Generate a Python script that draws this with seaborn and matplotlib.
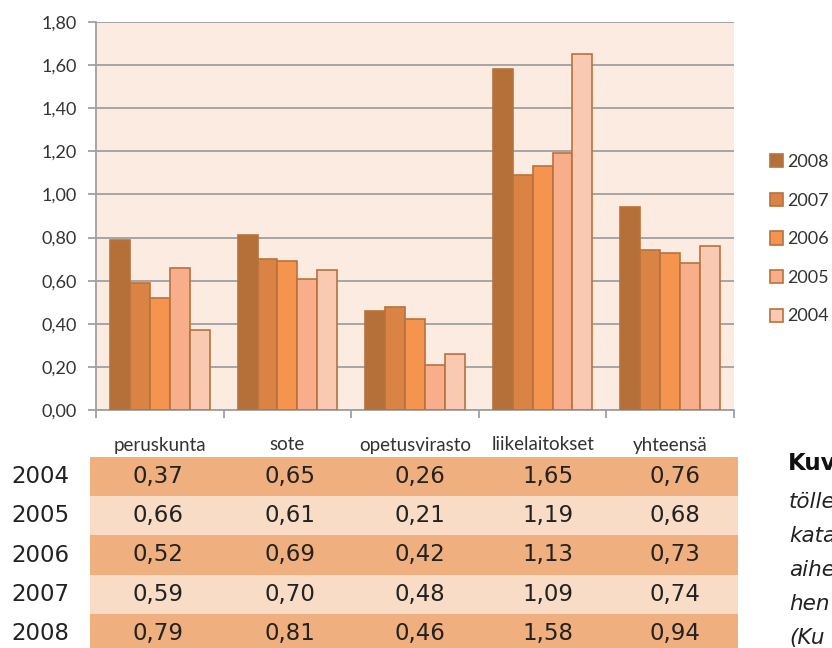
import matplotlib
matplotlib.use("Agg")
import matplotlib.pyplot as plt
from matplotlib.patches import Rectangle
import seaborn as sns
import pandas as pd

categories = ["peruskunta", "sote", "opetusvirasto", "liikelaitokset", "yhteensä"]
years = ["2004", "2005", "2006", "2007", "2008"]
values = {
    "2004": [0.37, 0.65, 0.26, 1.65, 0.76],
    "2005": [0.66, 0.61, 0.21, 1.19, 0.68],
    "2006": [0.52, 0.69, 0.42, 1.13, 0.73],
    "2007": [0.59, 0.70, 0.48, 1.09, 0.74],
    "2008": [0.79, 0.81, 0.46, 1.58, 0.94],
}
y_ticks = [0.0, 0.2, 0.4, 0.6, 0.8, 1.0, 1.2, 1.4, 1.6, 1.8]
caption_title = "Kuv"
caption_lines = ["tölle", "kata", "aihe", "hen", "(Ku"]

bar_order = ["2008", "2007", "2006", "2005", "2004"]
palette = {"2008": "#B5703A", "2007": "#D98444", "2006": "#F5944E",
           "2005": "#F8AE8B", "2004": "#FAC9B1"}
edge = "#B8723C"

def fmt(v):
    return f"{v:.2f}".replace(".", ",")

rows = []
for yr in years:
    for cat, v in zip(categories, values[yr]):
        rows.append({"kategoria": cat, "vuosi": yr, "arvo": v})
df = pd.DataFrame(rows)

sns.set_theme(style="white")
plt.rcParams["font.family"] = ["Lato", "DejaVu Sans"]

W, H = 832, 648
fig = plt.figure(figsize=(W / 100, H / 100), dpi=100)
ax_l, ax_r, ax_t, ax_b = 96, 734, 22, 410
ax = fig.add_axes([ax_l / W, 1 - ax_b / H, (ax_r - ax_l) / W, (ax_b - ax_t) / H])
ax.set_facecolor("#FCEBE1")

sns.barplot(data=df, x="kategoria", y="arvo", hue="vuosi", order=categories,
            hue_order=bar_order, palette=palette, saturation=1, width=0.78, gap=0,
            edgecolor=edge, linewidth=1.2, ax=ax, legend=True, zorder=3)

ax.set_ylim(0, 1.8)
ax.set_xlim(-0.5, len(categories) - 0.5)
ax.set_yticks(y_ticks)
ax.set_yticklabels([fmt(t) for t in y_ticks], fontsize=13, color="#333333")
ax.yaxis.grid(True, color="#A0A0A0", linewidth=1.3, zorder=0)
ax.set_axisbelow(True)
ax.set_xlabel("")
ax.set_ylabel("")

# category boundaries as ticks; names sit above the table
ax.set_xticks([i - 0.5 for i in range(len(categories) + 1)])
ax.set_xticklabels([])
ax.tick_params(axis="x", bottom=True, length=6, width=1.3, color="#A0A0A0")
ax.tick_params(axis="y", left=True, length=6, width=1.3, color="#A0A0A0", pad=8)
for name, sp in ax.spines.items():
    if name in ("left", "bottom"):
        sp.set_color("#A0A0A0")
        sp.set_linewidth(1.3)
    else:
        sp.set_visible(False)

# legend
handles, labels = ax.get_legend_handles_labels()
leg = ax.legend(handles, labels, loc="center left", bbox_to_anchor=(1.045, 0.44),
                frameon=False, fontsize=13, handlelength=0.75, handleheight=0.75,
                handletextpad=0.2, labelspacing=1.25, borderaxespad=0)
for t in leg.get_texts():
    t.set_color("#333333")

# category names, centred under each group
for i, cat in enumerate(categories):
    xf = ax.transData.transform((i, 0))[0] / W
    fig.text(xf, 1 - 445 / H, cat, ha="center", va="center",
             fontsize=13.5, color="#333333")

# data table below the chart
tbl_l, tbl_r = 90, 738
row_top, row_h = 457, 39.2
col_x = [158, 290, 420, 548, 675]
for r, yr in enumerate(years):
    y0 = row_top + r * row_h
    color = "#EFAF7F" if r % 2 == 0 else "#F8DCC5"
    fig.patches.append(Rectangle((tbl_l / W, 1 - (y0 + row_h) / H), (tbl_r - tbl_l) / W,
                                 row_h / H, transform=fig.transFigure,
                                 facecolor=color, edgecolor="none"))
    yc = 1 - (y0 + row_h / 2) / H
    fig.text(40 / W, yc, yr, ha="center", va="center", fontsize=16.5,
             family="DejaVu Sans", color="#222222")
    for cx, v in zip(col_x, values[yr]):
        fig.text(cx / W, yc, fmt(v), ha="center", va="center", fontsize=16.5,
                 family="DejaVu Sans", color="#222222")

# caption text at the right edge of the page
fig.text(788 / W, 1 - 463 / H, caption_title, ha="left", va="center", fontsize=16.5,
         family="DejaVu Sans", fontweight="bold", color="#111111")
for k, line in enumerate(caption_lines):
    fig.text(789 / W, 1 - (502 + k * 34) / H, line, ha="left", va="center",
             fontsize=15.5, family="DejaVu Sans", style="italic", color="#222222")

fig.savefig("out.png", dpi=100, facecolor="white")
